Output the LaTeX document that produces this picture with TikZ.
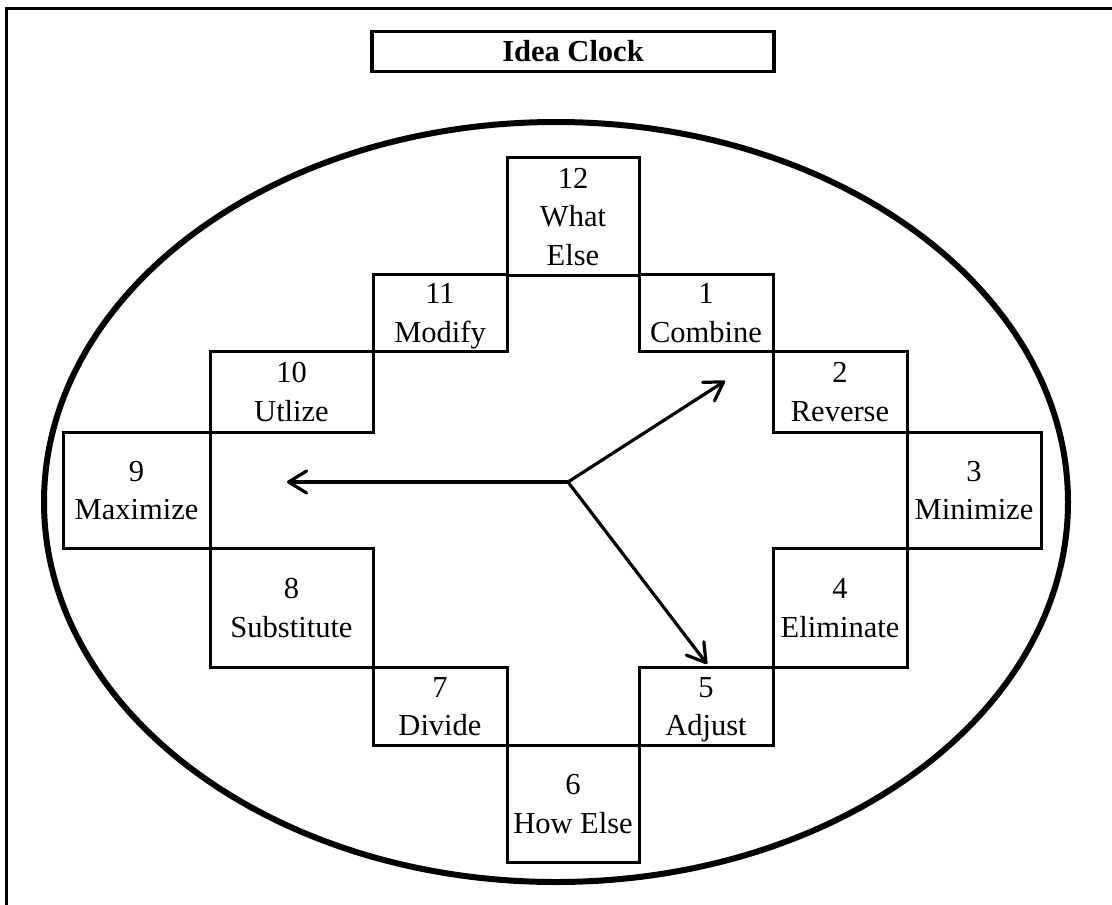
\documentclass[tikz,border=0pt]{standalone}
\usepackage{fontspec}
\setmainfont{Liberation Serif}
\usetikzlibrary{arrows.meta}

% first line gets a fixed height, last line contributes no depth,
% so every cell spaces its two or three lines the same way
\newcommand\celltext[2]{\rule{0pt}{21pt}#1\\\smash{#2}}
\newcommand\celltextiii[3]{\rule{0pt}{21pt}#1\\#2\\\smash{#3}}

\tikzset{
  cell/.style={draw, line width=3pt, inner sep=0pt, outer sep=0pt,
    align=center, font=\fontsize{30.5}{38.5}\selectfont},
  titlebox/.style={draw, line width=3.2pt, inner sep=0pt, outer sep=0pt,
    font=\bfseries\fontsize{30.5}{39}\selectfont},
  hand/.style={line width=3.2pt, line cap=round, line join=round,
    -{Straight Barb[length=18pt,width=22pt,line cap=round,line join=round]}},
  rim/.style={line width=6pt},
  frame/.style={line width=3.5pt},
}

\begin{document}
\begin{tikzpicture}[x=1pt, y=-1pt]
  \useasboundingbox (0,0) rectangle (1112,905);

  % page frame (left and top edges)
  \draw[frame] (6.5,905) -- (6.5,8.5) -- (1112,8.5);

  % heading
  \node[titlebox, minimum width=402pt, minimum height=40pt] (title) at (573,51.5) {Idea Clock};

  % clock face
  \draw[rim] (556,502) ellipse [x radius=512, y radius=380];

  % the twelve hour cells
  \node[cell, minimum width=132pt, minimum height=118pt] (h12) at (573,216)   {\celltextiii{12}{What}{Else}};
  \node[cell, minimum width=134pt, minimum height=77pt]  (h1)  at (706,312.5) {\celltext{1}{Combine}};
  \node[cell, minimum width=134pt, minimum height=81pt]  (h2)  at (840,391.5) {\celltext{2}{Reverse}};
  \node[cell, minimum width=134pt, minimum height=116pt] (h3)  at (974,490)   {\celltext{3}{Minimize}};
  \node[cell, minimum width=134pt, minimum height=119pt] (h4)  at (840,607.5) {\celltext{4}{Eliminate}};
  \node[cell, minimum width=134pt, minimum height=78pt]  (h5)  at (706,706)   {\celltext{5}{Adjust}};
  \node[cell, minimum width=132pt, minimum height=117pt] (h6)  at (573,803.5) {\celltext{6}{How Else}};
  \node[cell, minimum width=134pt, minimum height=78pt]  (h7)  at (440,706)   {\celltext{7}{Divide}};
  \node[cell, minimum width=163pt, minimum height=119pt] (h8)  at (291.5,607.5) {\celltext{8}{Substitute}};
  \node[cell, minimum width=147pt, minimum height=116pt] (h9)  at (136.5,490) {\celltext{9}{Maximize}};
  \node[cell, minimum width=163pt, minimum height=81pt]  (h10) at (291.5,391.5) {\celltext{10}{Utlize}};
  \node[cell, minimum width=134pt, minimum height=77pt]  (h11) at (440,312.5) {\celltext{11}{Modify}};

  % clock hands
  \coordinate (hub) at (568,482);
  \coordinate (tipA) at (287,482);
  \coordinate (tipB) at (725,381);
  \coordinate (tipC) at (707,664);
  \draw[hand] (hub) -- (tipA);
  \draw[hand] (hub) -- (tipB);
  \draw[hand] (hub) -- (tipC);
\end{tikzpicture}
\end{document}
